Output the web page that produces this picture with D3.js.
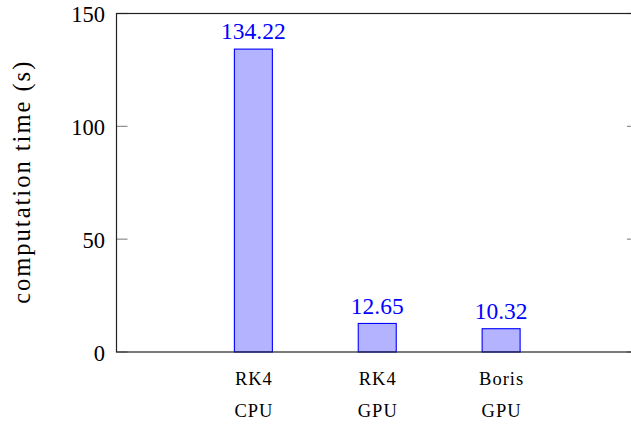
<!DOCTYPE html>
<html>
<head>
<meta charset="utf-8">
<script src="https://cdn.jsdelivr.net/npm/d3@7/dist/d3.min.js"></script>
<style>
  html, body { margin: 0; padding: 0; background: #fff; }
  svg { display: block; }
  svg text { font-family: 'Liberation Serif', 'Liberation Sans', serif; }
</style>
</head>
<body>
<svg id="chart" width="631" height="424"></svg>
<script>
const categories = ["RK4 CPU", "RK4 GPU", "Boris GPU"];
const categoryLines = [["RK4", "CPU"], ["RK4", "GPU"], ["Boris", "GPU"]];
const values = [134.22, 12.65, 10.32];
const valueLabels = ["134.22", "12.65", "10.32"];
const yTicks = [0, 50, 100, 150];
const yLabel = "computation time (s)";

(function () {
const svg = d3.select("#chart");
const mLeft = 116.5, mRight = 638, mTop = 13.5, mBottom = 352;

const x = d3.scalePoint().domain(categories).range([mLeft, mRight]).padding(1.105);
const y = d3.scaleLinear().domain([0, 150]).range([mBottom, mTop]);
const barW = 38;

// inward ticks, left and right
const tickLen = 11;
const tickG = svg.append("g");
yTicks.forEach(t => {
  tickG.append("line").attr("x1", mLeft).attr("x2", mLeft + tickLen)
    .attr("y1", y(t)).attr("y2", y(t)).attr("stroke", "#8c8c8c").attr("stroke-width", 1.2);
  tickG.append("line").attr("x1", mRight).attr("x2", mRight - tickLen)
    .attr("y1", y(t)).attr("y2", y(t)).attr("stroke", "#8c8c8c").attr("stroke-width", 1.2);
});

// bars
svg.append("g").selectAll("rect").data(values).join("rect")
  .attr("x", (d, i) => x(categories[i]) - barW / 2)
  .attr("y", d => y(d))
  .attr("width", barW)
  .attr("height", d => y(0) - y(d))
  .attr("fill", "#b3b3ff")
  .attr("stroke", "#0000ff")
  .attr("stroke-width", 1.1);

// value labels
svg.append("g").selectAll("text").data(values).join("text")
  .attr("x", (d, i) => x(categories[i]))
  .attr("y", d => y(d) - 9.7)
  .attr("text-anchor", "middle")
  .attr("font-size", 23.5)
  .attr("fill", "#0000ff")
  .text((d, i) => valueLabels[i]);

// frame
svg.append("rect").attr("x", mLeft).attr("y", mTop)
  .attr("width", mRight - mLeft).attr("height", mBottom - mTop)
  .attr("fill", "none").attr("stroke", "#222").attr("stroke-width", 1.2);

// y tick labels via d3 axis
const yAxis = d3.axisLeft(y).tickValues(yTicks).tickSize(0).tickPadding(11.5).tickFormat(d3.format("d"));
const yg = svg.append("g").attr("transform", `translate(${mLeft},0)`).call(yAxis);
yg.select(".domain").remove();
yg.attr("font-family", null);
yg.selectAll("text").attr("font-size", 22.5).attr("fill", "#000").attr("dy", "0.36em");

// category labels (two lines)
const ls = 1;
const xg = svg.append("g");
categories.forEach((c, i) => {
  categoryLines[i].forEach((ln, j) => {
    xg.append("text").attr("x", x(c) + ls / 2).attr("y", 385 + j * 32)
      .attr("text-anchor", "middle").attr("font-size", 18.5).attr("fill", "#000")
      .attr("letter-spacing", ls)
      .text(ln);
  });
});

// y label
const yls = 2;
svg.append("text")
  .attr("transform", `translate(29.5,${(mTop + mBottom) / 2 - yls / 2}) rotate(-90)`)
  .attr("text-anchor", "middle").attr("font-size", 24.5).attr("fill", "#000")
  .attr("letter-spacing", yls)
  .text(yLabel);
})();
</script>
</body>
</html>
